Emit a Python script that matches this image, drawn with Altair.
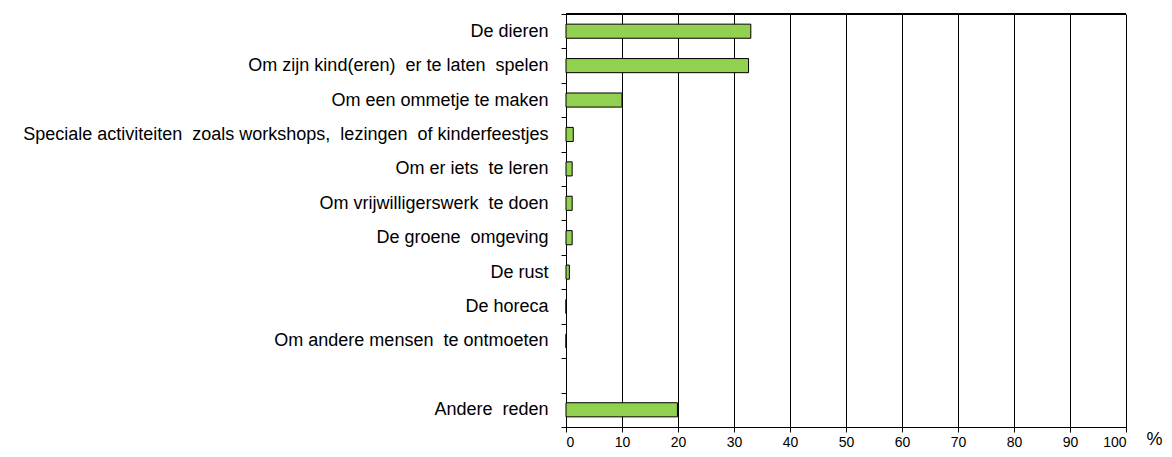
import altair as alt
import pandas as pd

NB = "\u00a0"
categories = [
    "De dieren" + NB,
    "Om zijn kind(eren)" + NB + " er te laten" + NB + " spelen",
    "Om een ommetje te maken",
    "Speciale activiteiten" + NB + " zoals workshops," + NB + " lezingen" + NB + " of kinderfeestjes",
    "Om er iets" + NB + " te leren",
    "Om vrijwilligerswerk" + NB + " te doen",
    "De groene" + NB + " omgeving",
    "De rust",
    "De horeca",
    "Om andere mensen" + NB + " te ontmoeten",
    " ",
    "Andere" + NB + " reden",
]
values = [33.0, 32.6, 10.0, 1.3, 1.1, 1.1, 1.1, 0.6, 0.0, 0.0, None, 19.9]
x_ticks = list(range(0, 101, 10))

df = pd.DataFrame({"reden": categories, "pct": values}).dropna()

FONT = "Liberation Sans"

bars = (
    alt.Chart(df)
    .mark_bar(fill="#92D050", stroke="black", strokeWidth=1, height={"band": 0.41})
    .encode(
        x=alt.X(
            "pct:Q",
            scale=alt.Scale(domain=[0, 100], nice=False),
            axis=alt.Axis(
                values=x_ticks,
                title="%",
                titleFont=FONT,
                titleFontSize=18,
                titleFontWeight="normal",
                titleColor="black",
                titleX=588,
                titleY=17,
                titleAnchor="start",
                titleAlign="center",
                titleBaseline="alphabetic",
                labelFont=FONT,
                labelFontSize=14,
                labelColor="black",
                labelPadding=3,
                tickColor="black",
                tickSize=5,
                domainColor="black",
                grid=True,
                gridColor="black",
                gridWidth=1,
                gridOpacity=1,
            ),
        ),
        y=alt.Y(
            "reden:N",
            sort=categories,
            scale=alt.Scale(domain=categories, paddingInner=0, paddingOuter=0),
            axis=alt.Axis(
                title=None,
                labelFont=FONT,
                labelFontSize=18,
                labelColor="black",
                labelPadding=13,
                labelLimit=0,
                tickColor="black",
                tickSize=5,
                tickBand="extent",
                domainColor="black",
                grid=False,
            ),
        ),
    )
)

top_rule = alt.Chart(df).mark_rule(color="black", strokeWidth=1).encode(
    x=alt.value(0), x2=alt.value(560), y=alt.value(0)
)

chart = (
    alt.layer(bars, top_rule)
    .properties(
        width=560,
        height=413,
        autosize=alt.AutoSizeParams(type="none"),
        padding={"left": 558, "top": 6, "right": 38, "bottom": 22},
    )
    .configure_view(stroke=None)
    .configure(background="white")
)

chart.save("out.html", embed_options={"renderer": "svg", "actions": False})
